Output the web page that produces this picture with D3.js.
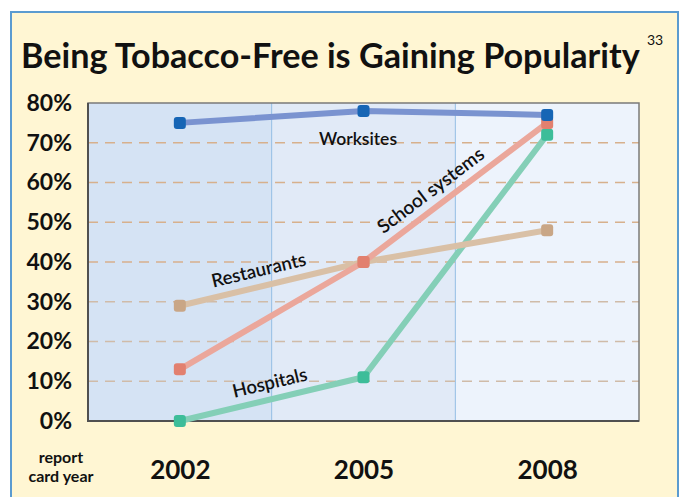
<!DOCTYPE html>
<html>
<head>
<meta charset="utf-8">
<script src="https://cdn.jsdelivr.net/npm/d3@7/dist/d3.min.js"></script>
<style>
  html, body { margin: 0; padding: 0; background: #ffffff; }
  svg { display: block; }
  text { font-family: Lato, "Open Sans", "DejaVu Sans", sans-serif; }
</style>
</head>
<body>
<svg id="chart" width="684" height="497"></svg>
<script>
// Report card years and the share of each setting that is tobacco-free (%)
const years = ["2002", "2005", "2008"];
const worksites = [75, 78, 77];
const schoolSystems = [13, 40, 75];
const restaurants = [29, 40, 48];
const hospitals = [0, 11, 72];
const yTicks = [0, 10, 20, 30, 40, 50, 60, 70, 80];

const series = [
  { name: "Hospitals", values: hospitals, line: "#84cfb7", mark: "#3dbd99" },
  { name: "Restaurants", values: restaurants, line: "#d9c0a6", mark: "#c9a686" },
  { name: "School systems", values: schoolSystems, line: "#eba79b", mark: "#e2806f" },
  { name: "Worksites", values: worksites, line: "#7a93d0", mark: "#1665b5" }
];

const svg = d3.select("#chart");
const W = 684, H = 497;
const plot = { left: 88, right: 639, top: 103, bottom: 421 };

// page panel
svg.append("rect").attr("x", 0).attr("y", 0).attr("width", W).attr("height", H).attr("fill", "#ffffff");
svg.append("rect").attr("x", 11).attr("y", 12).attr("width", 667).attr("height", H).attr("fill", "#fff6d3");
svg.append("path")
  .attr("d", `M11,${H} V12 H678 V${H}`)
  .attr("fill", "none").attr("stroke", "#5b9bd0").attr("stroke-width", 2);

const x = d3.scalePoint().domain(years).range([plot.left, plot.right]).padding(0.5);
const band = d3.scaleBand().domain(years).range([plot.left, plot.right]).padding(0);
const y = d3.scaleLinear().domain([0, 80]).range([plot.bottom, plot.top]);

// shaded year bands
const bandFill = ["#d5e3f4", "#e1eaf7", "#edf3fc"];
svg.append("g").selectAll("rect").data(years).join("rect")
  .attr("x", d => band(d)).attr("y", plot.top)
  .attr("width", band.bandwidth()).attr("height", plot.bottom - plot.top)
  .attr("fill", (d, i) => bandFill[i]);
svg.append("g").selectAll("line").data(years.slice(1)).join("line")
  .attr("x1", d => band(d)).attr("x2", d => band(d))
  .attr("y1", plot.top).attr("y2", plot.bottom)
  .attr("stroke", "#92bde6").attr("stroke-width", 1);

// dashed gridlines
svg.append("g").selectAll("line").data(yTicks.filter(t => t > 0 && t < 80)).join("line")
  .attr("x1", plot.left).attr("x2", plot.right)
  .attr("y1", d => y(d)).attr("y2", d => y(d))
  .attr("stroke", d => d >= 40 ? "#d7b08c" : "#d0bba8")
  .attr("stroke-width", 1.3)
  .attr("stroke-dasharray", "10,7");

// plot frame
svg.append("rect")
  .attr("x", plot.left).attr("y", plot.top)
  .attr("width", plot.right - plot.left).attr("height", plot.bottom - plot.top)
  .attr("fill", "none").attr("stroke", "#7a7a7a").attr("stroke-width", 1.5);
svg.append("path")
  .attr("d", `M${plot.left},${plot.top} V${plot.bottom} H${plot.right}`)
  .attr("fill", "none").attr("stroke", "#505050").attr("stroke-width", 2);

// y axis labels
const yAxis = d3.axisLeft(y).tickValues(yTicks).tickFormat(d => d + "%").tickSize(0).tickPadding(16);
const yG = svg.append("g").attr("transform", `translate(${plot.left},0)`).call(yAxis);
yG.select(".domain").remove();
yG.selectAll("text")
  .attr("font-family", "Lato, 'Open Sans', sans-serif")
  .attr("font-weight", 700).attr("font-size", 23).attr("fill", "#111");

// x axis labels
const xAxis = d3.axisBottom(x).tickSize(0).tickPadding(0);
const xG = svg.append("g").attr("transform", `translate(0,${plot.bottom})`).call(xAxis);
xG.select(".domain").remove();
xG.selectAll("text")
  .attr("dy", null).attr("y", 58)
  .attr("font-family", "'DejaVu Sans Condensed', 'DejaVu Sans', sans-serif")
  .attr("font-weight", 700).attr("font-size", 26).attr("fill", "#111");

svg.append("text").attr("x", 61).attr("y", 463).attr("text-anchor", "middle")
  .attr("font-weight", 700).attr("font-size", 16).attr("fill", "#111").text("report");
svg.append("text").attr("x", 61).attr("y", 482).attr("text-anchor", "middle")
  .attr("font-weight", 700).attr("font-size", 16).attr("fill", "#111").text("card year");

// lines
const line = d3.line().x((d, i) => x(years[i])).y(d => y(d));
svg.append("g").selectAll("path").data(series).join("path")
  .attr("d", s => line(s.values))
  .attr("fill", "none").attr("stroke", s => s.line)
  .attr("stroke-width", 6).attr("stroke-linejoin", "round");

// markers
const ms = 12;
series.forEach(s => {
  svg.append("g").selectAll("rect").data(s.values).join("rect")
    .attr("x", (d, i) => x(years[i]) - ms / 2)
    .attr("y", d => y(d) - ms / 2)
    .attr("width", ms).attr("height", ms).attr("rx", 3)
    .attr("fill", s.mark);
});

// series labels placed along their lines
function seriesLabel(text, xi, t, offset, size) {
  const s = series.find(d => d.name === text);
  const x0 = x(years[xi]), y0 = y(s.values[xi]);
  const x1 = x(years[xi + 1]), y1 = y(s.values[xi + 1]);
  const ang = Math.atan2(y1 - y0, x1 - x0) * 180 / Math.PI;
  const px = x0 + (x1 - x0) * t, py = y0 + (y1 - y0) * t;
  svg.append("text")
    .attr("transform", `translate(${px},${py}) rotate(${ang}) translate(0,${-offset})`)
    .attr("text-anchor", "middle")
    .attr("font-family", "Lato, 'Open Sans', sans-serif")
    .attr("font-weight", 600).attr("font-size", size).attr("fill", "#111")
    .text(text);
}
svg.append("text").attr("x", 358).attr("y", 145).attr("text-anchor", "middle")
  .attr("font-family", "Lato, 'Open Sans', sans-serif")
  .attr("font-weight", 600).attr("font-size", 17.5).attr("fill", "#111").text("Worksites");
seriesLabel("School systems", 1, 0.42, 10, 19);
seriesLabel("Restaurants", 0, 0.45, 10, 18.5);
seriesLabel("Hospitals", 0, 0.51, 10, 18.5);

// title, sized to span the panel
const title = svg.append("text").attr("x", 21).attr("y", 68)
  .attr("font-family", "Lato, 'Open Sans', sans-serif")
  .attr("font-weight", 700).attr("font-size", 30).attr("fill", "#111")
  .text("Being Tobacco-Free is Gaining Popularity");
const tw = title.node().getComputedTextLength();
title.attr("font-size", 30 * 619 / tw);

svg.append("text").attr("x", 647).attr("y", 45)
  .attr("font-family", "'Liberation Sans', Arial, sans-serif")
  .attr("font-size", 14).attr("fill", "#111").text("33");
</script>
</body>
</html>
